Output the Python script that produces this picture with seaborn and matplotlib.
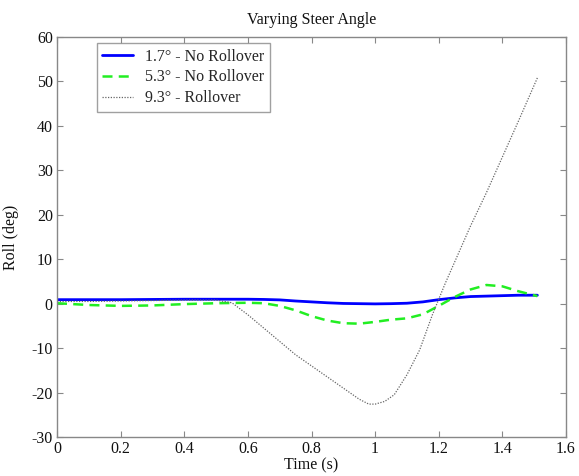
import matplotlib
matplotlib.use("Agg")
import matplotlib.pyplot as plt
import seaborn as sns
import pandas as pd

# Roll response for three steer angles
time_a = [0, 0.1, 0.2, 0.3, 0.4, 0.5, 0.6, 0.65, 0.7, 0.75, 0.8, 0.85, 0.9,
          0.95, 1.0, 1.05, 1.1, 1.15, 1.2, 1.25, 1.3, 1.35, 1.4, 1.45, 1.51]
roll_17 = [0.9, 0.9, 0.9, 0.95, 1.0, 1.0, 1.0, 0.95, 0.85, 0.6, 0.4, 0.2, 0.05,
           0.0, -0.05, 0.0, 0.1, 0.4, 0.9, 1.3, 1.6, 1.7, 1.8, 1.9, 1.9]
roll_53 = [0.1, -0.3, -0.5, -0.4, -0.1, 0.1, 0.2, 0.1, -0.5, -1.5, -2.8, -3.8, -4.4,
           -4.5, -4.1, -3.6, -3.3, -2.4, -0.5, 1.5, 3.2, 4.2, 3.9, 2.8, 1.7]

time_b = [0, 0.1, 0.2, 0.3, 0.4, 0.5, 0.55, 0.6, 0.65, 0.7, 0.75, 0.8, 0.85, 0.9,
          0.95, 0.98, 1.0, 1.03, 1.06, 1.1, 1.14, 1.18, 1.22, 1.26, 1.3, 1.35,
          1.4, 1.45, 1.51]
roll_93 = [0.5, 0.5, 0.6, 0.7, 0.8, 0.8, 0.2, -2.5, -5.5, -8.5, -11.5, -14, -16.5,
           -19, -21.5, -22.6, -22.6, -22, -20.5, -16, -10.4, -2.5, 4.5, 11.0, 17.5,
           25, 33, 41, 50.8]

labels = ["1.7° - No Rollover", "5.3° - No Rollover", "9.3° - Rollover"]
x_ticks = [0, 0.2, 0.4, 0.6, 0.8, 1, 1.2, 1.4, 1.6]
x_tick_labels = ["0", "0.2", "0.4", "0.6", "0.8", "1", "1.2", "1.4", "1.6"]
y_ticks = [-30, -20, -10, 0, 10, 20, 30, 40, 50, 60]

sns.set_style("ticks")
plt.rcParams["font.family"] = ["Liberation Serif", "DejaVu Serif"]
plt.rcParams["axes.unicode_minus"] = False

fig = plt.figure(figsize=(5.79, 4.76), dpi=100)
ax = fig.add_axes([57 / 579, 39 / 476, 509 / 579, 400 / 476])

df_a = pd.DataFrame({"t": time_a, "r17": roll_17, "r53": roll_53})
df_b = pd.DataFrame({"t": time_b, "r93": roll_93})

sns.lineplot(data=df_a, x="t", y="r17", ax=ax, color="#0000ff", lw=2.0,
             label=labels[0], sort=False)
sns.lineplot(data=df_a, x="t", y="r53", ax=ax, color="#22ee22", lw=1.8,
             label=labels[1], sort=False)
ax.lines[-1].set_dashes([4, 2.5])
sns.lineplot(data=df_b, x="t", y="r93", ax=ax, color="#666666", lw=0.9,
             label=labels[2], sort=False)
ax.lines[-1].set_linestyle((0, (1, 1.2)))

ax.set_xlim(0, 1.6)
ax.set_ylim(-30, 60)
ax.set_xticks(x_ticks)
ax.set_xticklabels(x_tick_labels)
ax.set_yticks(y_ticks)

for s in ax.spines.values():
    s.set_visible(True)
    s.set_color("#888888")
    s.set_linewidth(1.0)

ax.tick_params(axis="both", direction="in", top=True, right=True, length=4,
               width=0.8, color="#888888", labelsize=11.5, pad=3, labelcolor="#111111")

ax.set_title("Varying Steer Angle", fontsize=11.5, pad=9, color="#111111")
ax.set_xlabel("Time (s)", fontsize=11.5, labelpad=0, color="#111111")
ax.set_ylabel("Roll (deg)", fontsize=11.5, labelpad=9, color="#111111")

leg = ax.legend(loc="upper left", bbox_to_anchor=(0.078, 0.985), fontsize=11.5,
                frameon=True, fancybox=False, edgecolor="#888888",
                handlelength=1.9, borderpad=0.35, labelspacing=0.3,
                handletextpad=0.8, borderaxespad=0)
leg.get_frame().set_linewidth(1.0)

fig.savefig("out.png", dpi=100)
